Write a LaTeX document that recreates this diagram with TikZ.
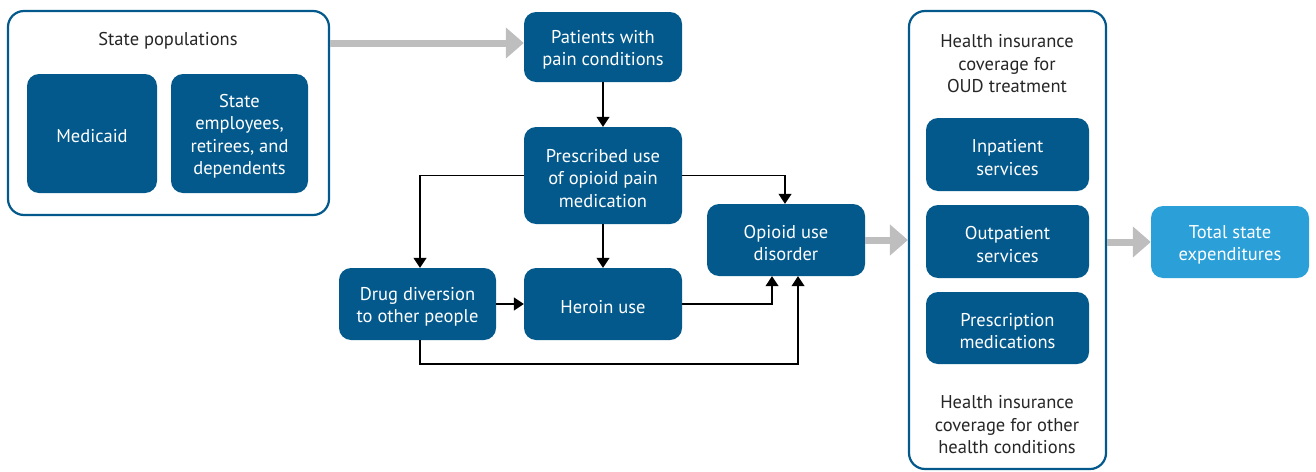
\documentclass[tikz,border=0pt]{standalone}
\usepackage{fontspec}
\setmainfont{PT Sans}
\usetikzlibrary{arrows.meta}
\definecolor{dblue}{HTML}{03598C}
\definecolor{lblue}{HTML}{2A9FD8}
\definecolor{agray}{HTML}{BEBEBE}
\newcommand{\fl}{\rule{0pt}{19pt}}
\tikzset{
  box/.style={fill=dblue, rounded corners=12pt, text=white, align=center, font=\fontsize{18.5}{22.5}\selectfont, inner sep=0pt},
  frame/.style={draw=dblue, line width=2.2pt, rounded corners=16pt, fill=white},
  lbl/.style={align=center, font=\fontsize{18.5}{22.5}\selectfont, text=black!85},
  fat/.style={draw=agray, line width=7pt, -{Triangle[width=30pt,length=18pt]}},
  thin/.style={draw=black, line width=1.1pt, -{Triangle[width=13pt,length=10pt]}}
}
\begin{document}
\begin{tikzpicture}[x=1pt,y=-1pt]
\useasboundingbox (0,0) rectangle (1316,471);
% frames
\node[frame, minimum width=321pt, minimum height=204pt] (pop) at (168.5,113) {};
\node[frame, minimum width=197pt, minimum height=458pt] (hi) at (1007.5,240) {};
\node[lbl] (poplbl) at (168,38) {\fl State populations};
\node[box, minimum width=130pt, minimum height=119pt] (med) at (92,133.5) {\fl Medicaid};
\node[box, minimum width=137pt, minimum height=119pt] (emp) at (239.5,133.5) {\fl State\\employees,\\retirees, and\\dependents};
% middle
\node[box, minimum width=158pt, minimum height=70pt] (pat) at (603,47) {\fl Patients with\\pain conditions};
\node[box, minimum width=158pt, minimum height=97pt] (pre) at (603,175.5) {\fl Prescribed use\\of opioid pain\\medication};
\node[box, minimum width=157pt, minimum height=72pt] (div) at (417.5,304) {\fl Drug diversion\\to other people};
\node[box, minimum width=158pt, minimum height=72pt] (her) at (603,304) {\fl Heroin use};
\node[box, minimum width=158pt, minimum height=72pt] (oud) at (786,240) {\fl Opioid use\\disorder};
% right
\node[lbl] (hitop) at (1007,61) {\fl Health insurance\\coverage for\\OUD treatment};
\node[box, minimum width=163pt, minimum height=73pt] (inp) at (1007.5,154.5) {\fl Inpatient\\services};
\node[box, minimum width=163pt, minimum height=73pt] (outp) at (1007.5,241.5) {\fl Outpatient\\services};
\node[box, minimum width=163pt, minimum height=72pt] (rx) at (1007.5,328) {\fl Prescription\\medications};
\node[lbl] (hibot) at (1007,422) {\fl Health insurance\\coverage for other\\health conditions};
\node[box, fill=lblue, minimum width=158pt, minimum height=72pt] (tot) at (1230,242) {\fl Total state\\expenditures};
% gray arrows
\draw[fat] (pop.east |- 0,43) -- (pat.west |- 0,43);
\draw[fat] (oud.east) -- (hi.west |- oud.east);
\draw[fat] (hi.east |- tot.west) -- (tot.west);
% black arrows
\draw[thin] (pat.south) -- (pre.north);
\draw[thin] (pre.south) -- (her.north);
\draw[thin] (pre.west) -| (div.north -| 420,0);
\draw[thin] (pre.east) -| (oud.north -| 785,0);
\draw[thin] (div.east) -- (her.west);
\draw[thin] (her.east) -| (oud.south -| 772,0);
\draw[thin] (div.south -| 420,0) -- (420,364) -| (oud.south -| 798,0);
\end{tikzpicture}
\end{document}
